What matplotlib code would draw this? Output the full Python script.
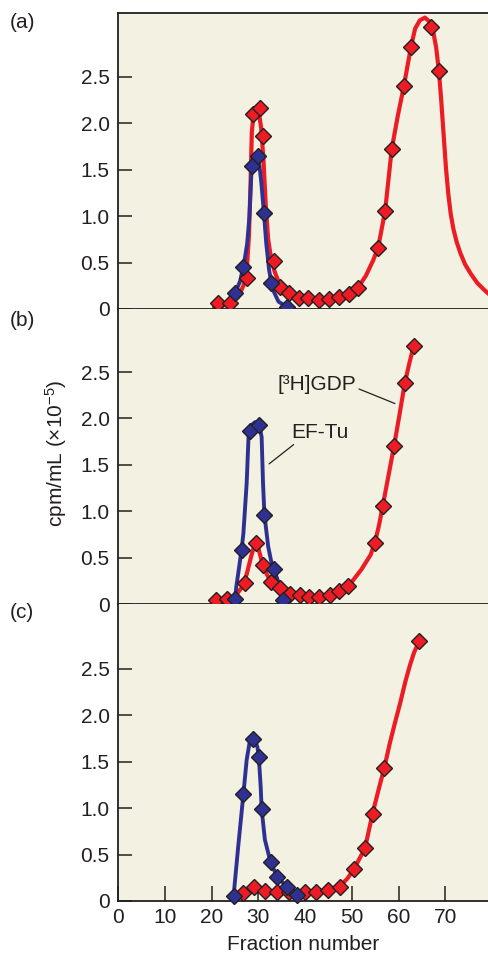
import matplotlib
matplotlib.use("Agg")
import matplotlib.pyplot as plt

plt.rcParams['font.family'] = ['Liberation Sans', 'DejaVu Sans']
plt.rcParams['mathtext.fontset'] = 'custom'
plt.rcParams['mathtext.rm'] = 'Liberation Sans'
plt.rcParams['mathtext.it'] = 'Liberation Sans'
plt.rcParams['mathtext.default'] = 'regular'

RED = "#ed1c24"
BLUE = "#2e3192"
EDGE = "#231f20"
BG = "#f3f1e1"

# ---- panel (a) ----
a_red_x = [21.4, 23.9, 27.6, 28.8, 30.3, 31.0, 33.3, 34.6, 36.5, 38.7, 40.7, 42.9,
           45.1, 47.2, 49.4, 51.3, 55.6, 57.1, 58.5, 61.1, 62.6, 66.9, 68.6]
a_red_y = [0.06, 0.06, 0.33, 2.10, 2.17, 1.86, 0.52, 0.24, 0.17, 0.12, 0.12, 0.10,
           0.11, 0.13, 0.16, 0.23, 0.66, 1.06, 1.72, 2.40, 2.82, 3.04, 2.56]
a_blue_x = [25.0, 26.7, 28.6, 29.9, 31.2, 32.7, 36.1]
a_blue_y = [0.17, 0.45, 1.54, 1.65, 1.03, 0.28, 0.02]

a_red_fit_x = [20.5, 22.0, 24.0, 25.7, 26.8, 27.5, 28.0, 28.3, 28.6, 29.0, 29.5, 30.1,
               30.6, 31.1, 31.6, 32.1, 32.8, 33.5, 34.5, 36.0, 38.0, 40.0, 43.0, 46.0,
               48.0, 50.0, 51.3, 53.0, 54.5, 55.6, 57.1, 58.5, 59.8, 61.1, 62.6, 63.5,
               64.5, 65.6, 66.5, 67.4, 68.0, 68.6, 69.1, 69.6, 70.1, 70.6, 71.1, 71.7,
               72.4, 73.2, 74.2, 75.4, 76.8, 78.2, 79.3, 80.5]
a_red_fit_y = [0.02, 0.03, 0.06, 0.13, 0.25, 0.40, 0.80, 1.30, 1.90, 2.12, 2.17, 2.12,
               1.95, 1.60, 1.10, 0.75, 0.52, 0.40, 0.27, 0.18, 0.13, 0.12, 0.11, 0.12,
               0.14, 0.18, 0.23, 0.36, 0.52, 0.66, 1.06, 1.72, 2.08, 2.40, 2.82, 3.02,
               3.11, 3.14, 3.10, 2.98, 2.82, 2.56, 2.24, 1.88, 1.52, 1.24, 1.03, 0.86,
               0.72, 0.60, 0.48, 0.38, 0.28, 0.21, 0.16, 0.12]
a_blue_fit_x = [25.0, 26.1, 26.9, 27.6, 28.1, 28.5, 28.9, 29.5, 30.1, 30.6, 31.2, 31.7,
                32.3, 33.0, 34.3, 36.1]
a_blue_fit_y = [0.17, 0.30, 0.48, 0.70, 1.00, 1.45, 1.62, 1.67, 1.60, 1.38, 1.03, 0.70,
                0.42, 0.22, 0.08, 0.02]

# ---- panel (b) ----
b_red_x = [20.9, 23.2, 27.1, 29.5, 31.0, 32.7, 34.6, 36.8, 38.9, 40.8, 42.9, 45.3,
           47.2, 49.1, 54.9, 56.6, 59.0, 61.3, 63.2]
b_red_y = [0.04, 0.05, 0.23, 0.66, 0.42, 0.24, 0.17, 0.11, 0.10, 0.08, 0.08, 0.10,
           0.14, 0.19, 0.66, 1.06, 1.70, 2.38, 2.78]
b_blue_x = [25.0, 26.4, 28.2, 30.2, 31.3, 33.3, 35.3]
b_blue_y = [0.05, 0.58, 1.86, 1.93, 0.96, 0.38, 0.04]

b_red_fit_x = [20.5, 23.0, 25.0, 26.5, 27.5, 28.5, 29.3, 30.0, 30.8, 31.8, 32.7, 34.0,
               36.0, 38.0, 41.0, 44.0, 46.0, 48.0, 50.0, 52.0, 54.0, 54.9, 55.8, 56.6,
               57.8, 59.0, 60.2, 61.3, 62.3, 63.2]
b_red_fit_y = [0.02, 0.04, 0.08, 0.18, 0.32, 0.52, 0.66, 0.60, 0.45, 0.32, 0.24, 0.18,
               0.13, 0.10, 0.08, 0.09, 0.11, 0.16, 0.24, 0.37, 0.53, 0.66, 0.85, 1.06,
               1.38, 1.70, 2.05, 2.38, 2.60, 2.78]
b_blue_fit_x = [25.0, 25.3, 25.9, 26.4, 26.8, 27.5, 27.9, 28.4, 29.3, 30.2, 30.7, 31.0,
                31.3, 32.1, 32.7, 33.3, 34.6, 35.3]
b_blue_fit_y = [0.05, 0.19, 0.40, 0.58, 0.76, 1.30, 1.80, 1.92, 1.96, 1.93, 1.80, 1.30,
                0.96, 0.62, 0.47, 0.38, 0.19, 0.04]

# ---- panel (c) ----
c_red_x = [26.8, 29.1, 31.4, 33.9, 36.5, 40.0, 42.4, 44.9, 47.4, 50.4, 52.8, 54.4,
           56.9, 64.4]
c_red_y = [0.09, 0.15, 0.11, 0.10, 0.10, 0.10, 0.10, 0.12, 0.15, 0.34, 0.57, 0.94,
           1.43, 2.80]
c_blue_x = [24.7, 26.8, 28.9, 30.1, 30.7, 32.6, 34.0, 36.2, 38.3]
c_blue_y = [0.05, 1.15, 1.75, 1.55, 0.99, 0.42, 0.26, 0.15, 0.06]

c_red_fit_x = [26.0, 26.8, 28.0, 29.1, 30.5, 32.0, 35.0, 40.0, 44.0, 46.0, 47.4, 49.0,
               50.4, 52.8, 54.4, 55.7, 56.9, 58.1, 59.2, 60.3, 61.4, 62.4, 63.3, 64.4]
c_red_fit_y = [0.06, 0.09, 0.13, 0.14, 0.12, 0.10, 0.10, 0.10, 0.11, 0.13, 0.16, 0.24,
               0.34, 0.57, 0.94, 1.20, 1.43, 1.70, 1.92, 2.13, 2.36, 2.54, 2.68, 2.80]
c_blue_fit_x = [24.7, 25.7, 26.8, 27.5, 28.2, 28.9, 29.8, 30.1, 30.5, 30.7, 31.4, 32.6,
                34.0, 36.2, 38.3]
c_blue_fit_y = [0.05, 0.59, 1.15, 1.52, 1.73, 1.77, 1.66, 1.55, 1.23, 0.99, 0.66, 0.42,
                0.26, 0.15, 0.06]

y_ticks = [0, 0.5, 1.0, 1.5, 2.0, 2.5]
y_ticklabels = ["0", "0.5", "1.0", "1.5", "2.0", "2.5"]
x_ticks = [0, 10, 20, 30, 40, 50, 60, 70]

panels = [
    ("(a)", a_red_x, a_red_y, a_blue_x, a_blue_y, a_red_fit_x, a_red_fit_y, a_blue_fit_x, a_blue_fit_y),
    ("(b)", b_red_x, b_red_y, b_blue_x, b_blue_y, b_red_fit_x, b_red_fit_y, b_blue_fit_x, b_blue_fit_y),
    ("(c)", c_red_x, c_red_y, c_blue_x, c_blue_y, c_red_fit_x, c_red_fit_y, c_blue_fit_x, c_blue_fit_y),
]

W, H = 489, 957
fig = plt.figure(figsize=(W / 100, H / 100), dpi=100)
fig.patch.set_facecolor("white")

left_px, right_px = 118, 489
tops = [13, 309, 604]
bottoms = [309, 604, 901]
px_per_unit = 92.8

axes = []
for i, (lab, rx, ry, bx, by, rfx, rfy, bfx, bfy) in enumerate(panels):
    top, bot = tops[i], bottoms[i]
    ax = fig.add_axes([left_px / W, 1 - bot / H, (right_px - left_px) / W, (bot - top) / H])
    ax.set_facecolor(BG)
    ax.plot(rfx, rfy, color=RED, lw=3.0, solid_capstyle="round", solid_joinstyle="round", zorder=2)
    ax.plot(bfx, bfy, color=BLUE, lw=2.8, solid_capstyle="round", solid_joinstyle="round", zorder=3)
    ax.plot(rx, ry, ls="none", marker="D", ms=7.8, mfc=RED, mec=EDGE, mew=1.0,
            zorder=4, clip_on=False)
    ax.plot(bx, by, ls="none", marker="D", ms=7.8, mfc=BLUE, mec=EDGE, mew=1.0,
            zorder=5, clip_on=False)
    ax.set_xlim(0, 79.3)
    ax.set_ylim(0, (bot - top) / px_per_unit)
    ax.set_yticks(y_ticks)
    ax.set_yticklabels(y_ticklabels)
    ax.tick_params(axis="y", direction="in", length=10, width=1.1, color=EDGE,
                   labelsize=15, pad=6, labelcolor="#231f20")
    ax.spines["right"].set_visible(False)
    if i > 0:
        ax.spines["top"].set_visible(False)
    for s in ["left", "bottom", "top"]:
        ax.spines[s].set_color(EDGE)
        ax.spines[s].set_linewidth(1.3)
    if i < 2:
        ax.set_xticks([])
    else:
        ax.set_xticks(x_ticks)
        ax.tick_params(axis="x", direction="in", length=11, width=1.1, color=EDGE,
                       labelsize=15, pad=5, labelcolor="#231f20")
        ax.set_xlabel("Fraction number", fontsize=15, color="#231f20", labelpad=6)
    fig.text(10 / W, 1 - [22, 320, 613][i] / H, lab, fontsize=15, ha="left", va="center",
             color="#231f20")
    axes.append(ax)

# annotations in panel (b)
axb = axes[1]
axb.annotate("[³H]GDP", xy=(59.2, 2.16), xytext=(42.5, 2.36), fontsize=15,
             ha="center", va="center", color="#231f20",
             arrowprops=dict(arrowstyle="-", color="#231f20", lw=0.9,
                             shrinkA=0, shrinkB=0, relpos=(1.0, 0.35)))
axb.annotate("EF-Tu", xy=(32.3, 1.51), xytext=(43.2, 1.85), fontsize=15,
             ha="center", va="center", color="#231f20",
             arrowprops=dict(arrowstyle="-", color="#231f20", lw=0.9,
                             shrinkA=0, shrinkB=0, relpos=(0.1, 0.0)))

fig.text(56 / W, 1 - 453 / H, "cpm/mL (×10$^{-5}$)", rotation=90, fontsize=15,
         ha="center", va="center", color="#231f20")

fig.savefig("out.png", dpi=100)
